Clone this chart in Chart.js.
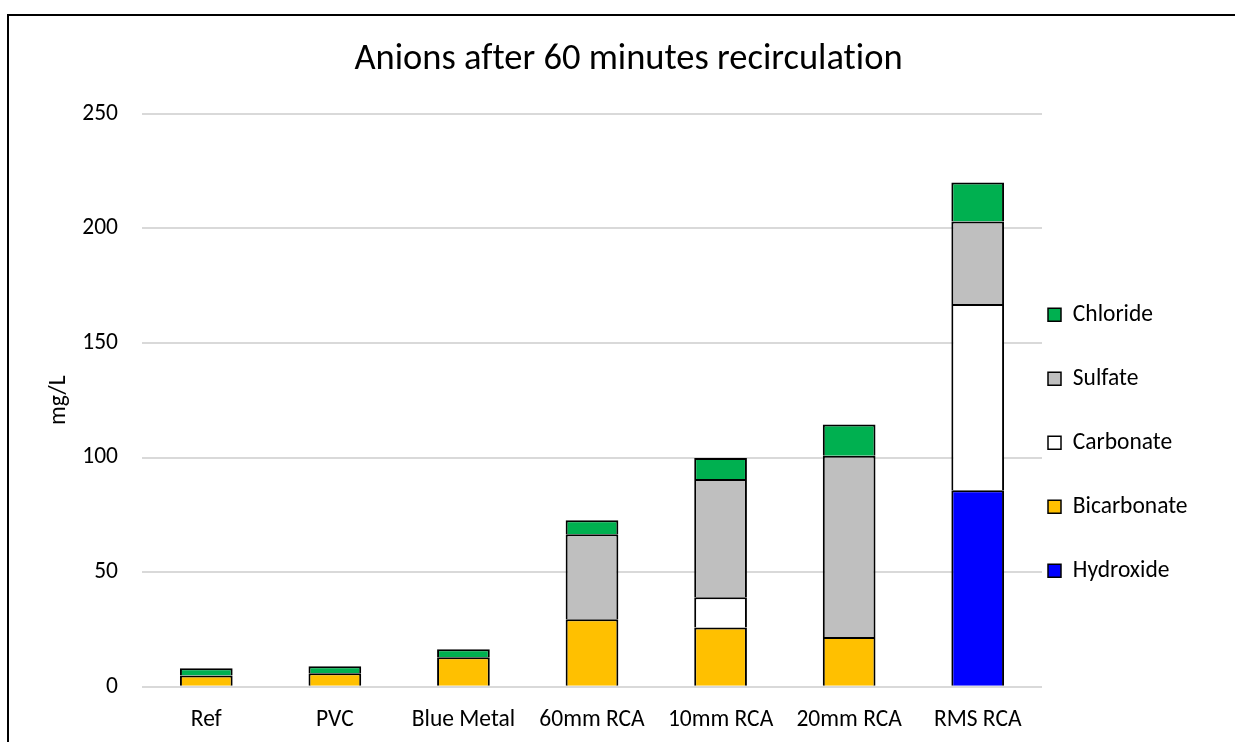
<!DOCTYPE html>
<html>
<head>
<meta charset="utf-8">
<title>Anions after 60 minutes recirculation</title>
<script src="https://cdn.jsdelivr.net/npm/chart.js@4"></script>
<style>
  html, body { margin: 0; padding: 0; background: #fff; overflow: hidden; }
  .frame {
    position: absolute; left: 7px; top: 14px;
    width: 1300px; height: 800px;
    border: 2px solid #000;
  }
  .chart-box { position: absolute; left: 0; top: 0; width: 1239px; height: 737px; }
</style>
</head>
<body>
<div class="frame">
  <div class="chart-box"><canvas id="anions-chart"></canvas></div>
</div>
<script>
// Anions after 60 minutes recirculation (mg/L)
const categories = ['Ref', 'PVC', 'Blue Metal', '60mm RCA', '10mm RCA', '20mm RCA', 'RMS RCA'];

const hydroxide   = [0,   0,   0,    0,    0,    0,    85.8];
const bicarbonate = [4.9, 5.9, 12.9, 29.5, 25.9, 21.7, 0];
const carbonate   = [0,   0,   0,    0,    13.2, 0,    81.2];
const sulfate     = [0,   0,   0,    37.1, 51.6, 79.1, 36];
const chloride    = [3.2, 3.1, 3.5,  6.1,  9.1,  13.6, 17];

const yTicks = [0, 50, 100, 150, 200, 250];

const FONT = 'Calibri, Carlito, Lato, sans-serif';
const LABEL_SIZE = 23.5;

function series(label, data, color) {
    return {
        label: label,
        data: data,
        backgroundColor: color,
        borderColor: '#000',
        // one line between stacked segments, like Excel
        borderWidth: { top: 2, right: 2, bottom: 0, left: 2 },
        borderSkipped: false,
        barPercentage: 0.41,
        categoryPercentage: 1
    };
}

function plainText(chart) {
    // no "ti" ligature, the original has none
    chart.ctx.textRendering = 'optimizeSpeed';
}

// Excel puts the legend just right of the plot and the title over the whole frame,
// so place those two boxes by hand once Chart.js has done its layout.
const excelLayout = {
    id: 'excelLayout',
    beforeLayout: plainText,
    beforeDraw: plainText,
    afterLayout(chart) {
        const area = chart.chartArea;
        const lg = chart.legend;
        const pad = lg.options.labels.padding;
        lg.left = area.right + 6 - pad;
        lg.right = lg.left + 300;
        lg.top = 287 - pad;
        lg.bottom = lg.top + 500;

        const t = chart.titleBlock;
        t.left = 0;
        t.right = 1239;
    }
};

const ctx = document.getElementById('anions-chart').getContext('2d');

new Chart(ctx, {
    type: 'bar',
    data: {
        labels: categories,
        datasets: [
            series('Hydroxide', hydroxide, '#0000FF'),
            series('Bicarbonate', bicarbonate, '#FFC000'),
            series('Carbonate', carbonate, '#FFFFFF'),
            series('Sulfate', sulfate, '#BFBFBF'),
            series('Chloride', chloride, '#00B050')
        ]
    },
    options: {
        responsive: true,
        maintainAspectRatio: false,
        animation: false,
        layout: { padding: { left: 0, right: 1239 - 1033, top: 0, bottom: 0 } },
        scales: {
            x: {
                stacked: true,
                grid: { display: false, drawTicks: false },
                border: { display: false },
                ticks: {
                    padding: 19,
                    color: '#000',
                    font: { family: FONT, size: LABEL_SIZE }
                }
            },
            y: {
                stacked: true,
                min: 0,
                max: 250,
                afterBuildTicks: (scale) => {
                    scale.ticks = yTicks.map(v => ({ value: v }));
                },
                afterFit: (scale) => { scale.width = 133; },
                grid: { color: '#D9D9D9', lineWidth: 2, drawTicks: false },
                border: { display: false },
                ticks: {
                    padding: 24,
                    color: '#000',
                    font: { family: FONT, size: LABEL_SIZE }
                },
                title: {
                    display: true,
                    text: 'mg/L',
                    color: '#000',
                    padding: { top: 36, bottom: 0 },
                    font: { family: FONT, size: LABEL_SIZE }
                }
            }
        },
        plugins: {
            title: {
                display: true,
                text: 'Anions after 60 minutes recirculation',
                color: '#000',
                padding: { top: 22, bottom: 32 },
                font: { family: FONT, size: 36.5, weight: 'normal' }
            },
            legend: {
                position: 'chartArea',
                align: 'start',
                reverse: true,
                labels: {
                    boxWidth: 13,
                    boxHeight: 13,
                    padding: 64 - LABEL_SIZE,
                    color: '#000',
                    font: { family: FONT, size: LABEL_SIZE }
                }
            },
            tooltip: { enabled: false }
        }
    },
    plugins: [excelLayout]
});
</script>
</body>
</html>
